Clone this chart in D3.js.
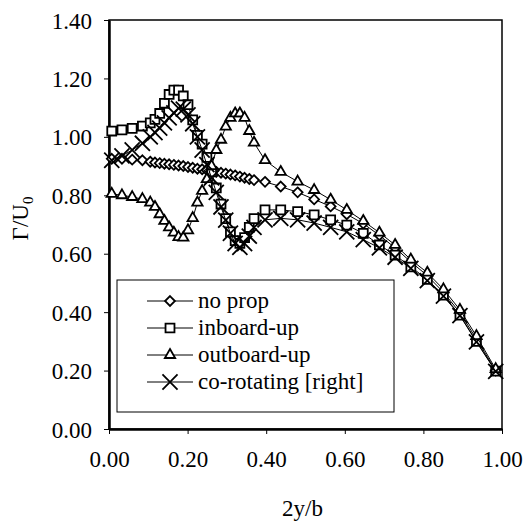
<!DOCTYPE html>
<html>
<head>
<meta charset="utf-8">
<script src="https://cdn.jsdelivr.net/npm/d3@7"></script>
<style>
  body { margin: 0; background: #fff; }
</style>
</head>
<body>
<div id="chart"></div>
<script>
// spanwise stations, 2y/b
const spanPos = [0.007, 0.033, 0.059, 0.085,
  0.105, 0.117, 0.129, 0.141, 0.153, 0.165, 0.177, 0.189, 0.201, 0.213, 0.225, 0.237,
  0.249, 0.261, 0.273, 0.285, 0.297, 0.309, 0.321, 0.333, 0.345, 0.357, 0.369,
  0.397, 0.437, 0.480, 0.522, 0.564, 0.605, 0.647, 0.688, 0.728, 0.768, 0.810, 0.851, 0.893, 0.935, 0.984];

const noProp = [0.925, 0.925, 0.922, 0.920,
  0.915, 0.912, 0.910, 0.908, 0.906, 0.904, 0.902, 0.900, 0.897, 0.894, 0.891, 0.889,
  0.886, 0.883, 0.880, 0.877, 0.874, 0.871, 0.868, 0.864, 0.860, 0.856, 0.852,
  0.846, 0.830, 0.810, 0.786, 0.762, 0.735, 0.703, 0.663, 0.620, 0.572, 0.525, 0.468, 0.398, 0.308, 0.200];

const inboardUp = [1.020, 1.024, 1.029, 1.037,
  1.048, 1.060, 1.080, 1.115, 1.145, 1.160, 1.160, 1.140, 1.110, 1.058, 1.005, 0.975,
  0.930, 0.880, 0.825, 0.770, 0.720, 0.675, 0.645, 0.635, 0.655, 0.690, 0.720,
  0.750, 0.750, 0.744, 0.733, 0.716, 0.698, 0.670, 0.630, 0.595, 0.555, 0.512, 0.458, 0.390, 0.300, 0.198];

const outboardUp = [0.805, 0.800, 0.794, 0.787,
  0.775, 0.760, 0.735, 0.712, 0.690, 0.672, 0.657, 0.655, 0.680, 0.722, 0.775, 0.815,
  0.855, 0.900, 0.955, 0.990, 1.035, 1.065, 1.080, 1.080, 1.065, 1.020, 0.980,
  0.920, 0.880, 0.847, 0.818, 0.785, 0.750, 0.712, 0.672, 0.630, 0.580, 0.535, 0.478, 0.408, 0.318, 0.205];

const coRotating = [0.920, 0.935, 0.955, 0.978,
  1.000, 1.015, 1.030, 1.048, 1.065, 1.082, 1.098, 1.095, 1.075, 1.045, 1.000, 0.955,
  0.905, 0.860, 0.810, 0.760, 0.715, 0.670, 0.635, 0.622, 0.635, 0.660, 0.690,
  0.716, 0.721, 0.716, 0.705, 0.690, 0.675, 0.648, 0.620, 0.588, 0.550, 0.508, 0.455, 0.388, 0.298, 0.197];

const seriesNames = ['no prop', 'inboard-up', 'outboard-up', 'co-rotating [right]'];
const xTicks = [0, 0.2, 0.4, 0.6, 0.8, 1.0];
const yTicks = [0, 0.2, 0.4, 0.6, 0.8, 1.0, 1.2, 1.4];

const SERIF = 'Liberation Serif';

class SpanChart {
  constructor(_config) {
    this.config = {
      parentElement: _config.parentElement,
      containerWidth: 523,
      containerHeight: 526,
      margin: {
        top: 20, right: 21, bottom: 97, left: 109,
      },
      fontSize: 23,
    };
    this.initVis();
  }

  initVis() {
    const vis = this;
    vis.width = vis.config.containerWidth - vis.config.margin.left - vis.config.margin.right;
    vis.height = vis.config.containerHeight - vis.config.margin.top - vis.config.margin.bottom;

    vis.svg = d3.select(vis.config.parentElement).append('svg')
      .attr('width', vis.config.containerWidth)
      .attr('height', vis.config.containerHeight)
      .attr('font-family', SERIF);

    vis.chartArea = vis.svg.append('g')
      .attr('transform', `translate(${vis.config.margin.left},${vis.config.margin.top})`);

    vis.xScale = d3.scaleLinear().domain([0, 1]).range([0, vis.width]);
    vis.yScale = d3.scaleLinear().domain([0, 1.4]).range([vis.height, 0]);

    vis.shapes = {
      'no prop': d3.symbol().type(d3.symbolDiamond2 || d3.symbolDiamond).size(62),
      'inboard-up': d3.symbol().type(d3.symbolSquare).size(80),
      'outboard-up': d3.symbol().type(d3.symbolTriangle).size(46),
      'co-rotating [right]': d3.symbol().type(d3.symbolTimes || d3.symbolX || d3.symbolCross).size(150),
    };

    vis.updateVis();
  }

  updateVis() {
    const vis = this;
    const cols = [noProp, inboardUp, outboardUp, coRotating];
    vis.series = seriesNames.map((name, i) => ({
      name,
      points: spanPos.map((x, j) => ({ x, y: cols[i][j] })),
    }));
    vis.renderVis();
  }

  renderVis() {
    const vis = this;
    const fs = vis.config.fontSize;

    // plot frame
    vis.chartArea.append('rect')
      .attr('width', vis.width)
      .attr('height', vis.height)
      .attr('fill', 'none')
      .attr('stroke', '#000')
      .attr('stroke-width', 1.5);

    const xAxis = d3.axisBottom(vis.xScale).tickValues(xTicks)
      .tickFormat(d3.format('.2f')).tickSize(5).tickSizeOuter(0);
    const yAxis = d3.axisLeft(vis.yScale).tickValues(yTicks)
      .tickFormat(d3.format('.2f')).tickSize(5).tickSizeOuter(0);

    const xAxisG = vis.chartArea.append('g')
      .attr('transform', `translate(0,${vis.height})`)
      .call(xAxis);
    const yAxisG = vis.chartArea.append('g').call(yAxis);

    [xAxisG, yAxisG].forEach((g) => {
      g.attr('font-family', SERIF).attr('font-size', fs);
      g.select('.domain').attr('stroke-width', 2.5);
    });
    xAxisG.selectAll('.tick text').attr('dy', '1.2em').attr('y', 10);
    yAxisG.selectAll('.tick text').attr('x', -17).attr('dy', '0.35em');

    vis.svg.append('text')
      .attr('x', vis.config.margin.left + vis.width / 2 - 3)
      .attr('y', 516)
      .attr('text-anchor', 'middle')
      .attr('font-size', fs)
      .text('2y/b');

    const yLab = vis.svg.append('text')
      .attr('transform', `translate(28, ${vis.config.margin.top + vis.height / 2 - 6}) rotate(-90)`)
      .attr('text-anchor', 'middle')
      .attr('font-size', fs);
    yLab.append('tspan').text('\u0393/U');
    yLab.append('tspan').attr('font-size', fs * 0.65).attr('dy', 5).text('0');

    const line = d3.line().x((d) => vis.xScale(d.x)).y((d) => vis.yScale(d.y));

    const seriesG = vis.chartArea.selectAll('.series')
      .data(vis.series)
      .join('g')
      .attr('class', 'series');

    seriesG.append('path')
      .attr('d', (d) => line(d.points))
      .attr('fill', 'none')
      .attr('stroke', '#000')
      .attr('stroke-width', 1);

    seriesG.each(function (s) {
      d3.select(this).selectAll('.pt')
        .data(s.points)
        .join('path')
        .attr('class', 'pt')
        .attr('transform', (d) => `translate(${vis.xScale(d.x)},${vis.yScale(d.y)})`)
        .attr('d', vis.shapes[s.name]())
        .attr('fill', s.name === 'co-rotating [right]' ? 'none' : '#fff')
        .attr('stroke', '#000')
        .attr('stroke-width', 1.8);
    });

    // legend
    const legend = vis.svg.append('g').attr('transform', 'translate(117,280)');
    legend.append('rect')
      .attr('width', 277)
      .attr('height', 132)
      .attr('fill', '#fff')
      .attr('stroke', '#000')
      .attr('stroke-width', 1);

    const item = legend.selectAll('.item')
      .data(seriesNames)
      .join('g')
      .attr('class', 'item')
      .attr('transform', (d, i) => `translate(0,${21 + i * 27})`);

    item.append('line')
      .attr('x1', 30).attr('x2', 76)
      .attr('stroke', '#000')
      .attr('stroke-width', 1);
    item.append('path')
      .attr('transform', 'translate(53,0)')
      .attr('d', (d) => vis.shapes[d]())
      .attr('fill', (d) => (d === 'co-rotating [right]' ? 'none' : '#fff'))
      .attr('stroke', '#000')
      .attr('stroke-width', 1.8);
    item.append('text')
      .attr('x', 81)
      .attr('dy', '0.32em')
      .attr('font-size', fs)
      .text((d) => d);
  }
}

new SpanChart({ parentElement: '#chart' });
</script>
</body>
</html>
